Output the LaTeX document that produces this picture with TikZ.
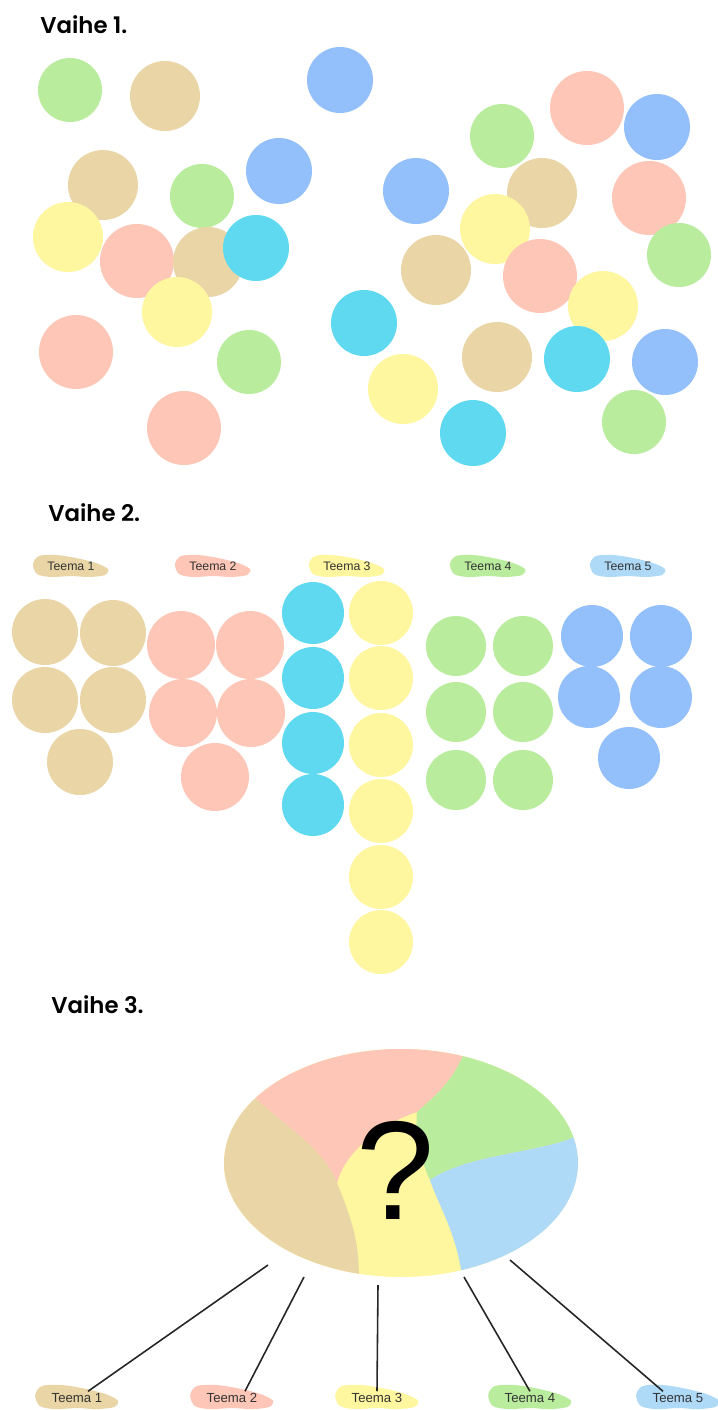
\documentclass[tikz,border=0pt]{standalone}
\usepackage{fontspec}
\setsansfont{Poppins}
\IfFontExistsTF{Poppins SemiBold}
  {\newfontfamily\headfont{Poppins SemiBold}}
  {\newfontfamily\headfont{Poppins}[FakeBold=0.6]}
\newfontfamily\labelfont{Liberation Sans}
\usetikzlibrary{calc}

\tikzset{
  vaihe/.style={anchor=west,inner sep=0pt,font=\headfont\fontsize{13}{15}\selectfont},
  teema/.style={inner sep=1pt,font=\labelfont\fontsize{7}{8}\selectfont,text=black!80},
  teemabig/.style={teema,font=\labelfont\fontsize{7.5}{9}\selectfont},
  yhteys/.style={line width=0.9pt,black!85},
}

\begin{document}
\begin{tikzpicture}[x=0.02cm,y=-0.02cm]
    \definecolor{vtan}{HTML}{E9D5A6}
    \definecolor{vpink}{HTML}{FDC6B6}
    \definecolor{vgreen}{HTML}{BAEC9E}
    \definecolor{vyellow}{HTML}{FFF6A0}
    \definecolor{vcyan}{HTML}{5ED9EF}
    \definecolor{vblue}{HTML}{93BFFB}
    \definecolor{vlblue}{HTML}{AED9F7}
    \useasboundingbox (0,0) rectangle (717,1410);
    \fill[white] (0,0) rectangle (717,1410);
    % Vaihe 1 (pallot sekaisin)
    \node[vaihe] (v1) at (40,25) {Vaihe 1.};
    \foreach \x/\y/\r/\c in {70/90/32/vgreen, 165/96/35/vtan, 340/80/33/vblue,
        103/185/35/vtan, 202/196/32/vgreen, 279/171/33/vblue, 68/237/35/vyellow,
        137/261/37/vpink, 208/262/35/vtan, 256/248/33/vcyan, 177/312/35/vyellow,
        76/352/37/vpink, 249/362/32/vgreen, 184/428/37/vpink,
        587/108/37/vpink, 657/127/33/vblue, 502/136/32/vgreen, 416/191/33/vblue,
        542/193/35/vtan, 649/198/37/vpink, 495/229/35/vyellow, 436/270/35/vtan,
        540/276/37/vpink, 679/255/32/vgreen, 603/306/35/vyellow, 364/323/33/vcyan,
        497/357/35/vtan, 577/359/33/vcyan, 665/362/33/vblue, 403/389/35/vyellow,
        473/433/33/vcyan, 634/422/32/vgreen}
      \fill[\c] (\x,\y) circle (\r);
    % Vaihe 2 (teemoittain)
    \node[vaihe] (v2) at (48,513) {Vaihe 2.};
    \foreach \i/\x/\c in {1/71/vtan,2/213/vpink,3/347/vyellow,4/488/vgreen,5/628/vlblue}{
      \fill[\c,shift={(\x,566)}] plot[smooth cycle] coordinates
        {(-38,-2) (-32,-10) (-15,-11) (5,-8) (25,-3) (37,3) (34,9) (18,11) (0,10) (-20,11) (-34,8)};
      \node[teema] (k\i) at (\x,566) {Teema \i};
    }
    \foreach \x/\y in {45/632,113/633,45/700,113/700,80/762}
      \fill[vtan] (\x,\y) circle (33);
    \foreach \x/\y in {181/645,250/645,183/713,251/713,215/777}
      \fill[vpink] (\x,\y) circle (34);
    \foreach \y in {613,678,743,805}
      \fill[vcyan] (313,\y) circle (31);
    \foreach \y in {613,678,745,811,877,942}
      \fill[vyellow] (381,\y) circle (32);
    \foreach \x/\y in {456/646,523/646,456/712,523/712,456/780,523/780}
      \fill[vgreen] (\x,\y) circle (30);
    \foreach \x/\y in {592/636,661/636,589/697,661/697,629/758}
      \fill[vblue] (\x,\y) circle (31);
    % Vaihe 3 (yhteinen kokonaisuus)
    \node[vaihe] (v3) at (51,1005) {Vaihe 3.};
    \coordinate (pot) at (401,1163);
    \begin{scope}
      \clip (pot) ellipse [x radius=177,y radius=114];
      \fill[vyellow] (pot) ellipse [x radius=177,y radius=114];
      \fill[vtan] (240,1085) .. controls (290,1130) and (325,1150) .. (337,1183)
        .. controls (350,1215) and (362,1245) .. (358,1290) -- (200,1300) -- (200,1085) -- cycle;
      \fill[vpink] (240,1085) .. controls (290,1130) and (325,1150) .. (337,1183)
        .. controls (345,1150) and (385,1122) .. (417,1112)
        .. controls (440,1092) and (460,1075) .. (472,1030) -- (200,1030) -- (200,1085) -- cycle;
      \fill[vgreen] (417,1112) .. controls (440,1092) and (460,1075) .. (472,1030)
        -- (600,1030) -- (600,1130) -- (572,1138)
        .. controls (540,1152) and (465,1155) .. (430,1180)
        .. controls (420,1160) and (415,1130) .. (417,1112) -- cycle;
      \fill[vlblue] (430,1180) .. controls (465,1155) and (540,1152) .. (572,1138)
        -- (600,1130) -- (600,1300) -- (464,1300)
        .. controls (462,1240) and (440,1210) .. (430,1180) -- cycle;
    \end{scope}
    \node[font=\labelfont\fontsize{80}{80}\selectfont,inner sep=0pt] (kysymys) at (396,1170) {?};
    % alhaalla teemat
    \foreach \i/\x/\c in {1/77/vtan,2/232/vpink,3/377/vyellow,4/530/vgreen,5/678/vlblue}{
      \fill[\c,shift={(\x,1397)},scale=1.1] plot[smooth cycle] coordinates
        {(-38,-2) (-32,-10) (-15,-11) (5,-8) (25,-3) (37,3) (34,9) (18,11) (0,10) (-20,11) (-34,8)};
      \node[teemabig] (t\i) at (\x,1398) {Teema \i};
    }
    \coordinate (a1) at (268,1265);
    \coordinate (a2) at (304,1277);
    \coordinate (a3) at (378,1285);
    \coordinate (a4) at (464,1277);
    \coordinate (a5) at (510,1260);
    \draw[yhteys] (a1) -- ([xshift=0.22cm]t1.north);
    \draw[yhteys] (a2) -- ([xshift=0.26cm]t2.north);
    \draw[yhteys] (a3) -- (t3.north);
    \draw[yhteys] (a4) -- (t4.north);
    \draw[yhteys] (a5) -- ([xshift=-0.3cm]t5.north);
\end{tikzpicture}
\end{document}
